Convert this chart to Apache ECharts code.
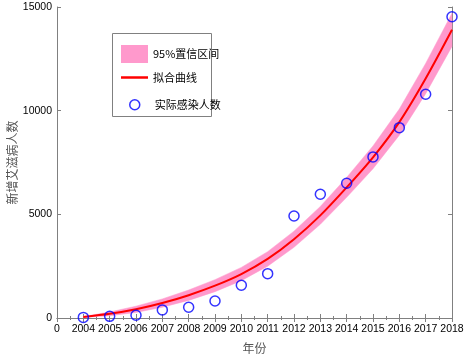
<!DOCTYPE html>
<html>
<head>
<meta charset="utf-8">
<script src="https://cdn.jsdelivr.net/npm/echarts@6/dist/echarts.min.js"></script>
<style>
  html, body { margin: 0; padding: 0; background: #fff; }
  #chart { width: 467px; height: 360px; }
</style>
</head>
<body>
<div id="chart"></div>
<script>
// years and values
const years = [2004, 2005, 2006, 2007, 2008, 2009, 2010, 2011, 2012, 2013, 2014, 2015, 2016, 2017, 2018];
const actual = [30, 80, 130, 390, 520, 820, 1580, 2140, 4920, 5970, 6500, 7770, 9180, 10790, 14530];
const fitted = [50, 200, 420, 720, 1100, 1560, 2120, 2850, 3800, 4950, 6300, 7750, 9450, 11550, 13900];
const upper = [70, 290, 570, 920, 1350, 1850, 2440, 3200, 4190, 5380, 6780, 8300, 10080, 12280, 14700];
const lower = [30, 110, 270, 520, 850, 1270, 1800, 2500, 3410, 4520, 5820, 7200, 8820, 10820, 13100];
const yTicks = [0, 5000, 10000, 15000];

const axisColor = "#808080";
const font = "Liberation Sans, Arial, sans-serif";
const cjk = "Noto Sans CJK SC";

const pairs = (arr) => years.map((y, i) => [y, arr[i]]);

// the confidence band as one polygon: upper edge forward, lower edge back
function renderBand(params, api) {
  if (params.dataIndex !== 0) return;
  const pts = [];
  years.forEach((y, i) => pts.push(api.coord([y, upper[i]])));
  for (let i = years.length - 1; i >= 0; i--) pts.push(api.coord([years[i], lower[i]]));
  return {
    type: "polygon",
    shape: { points: pts },
    style: { fill: "#ff99cc", stroke: "#ff99cc", lineWidth: 0.5 },
  };
}

const chart = echarts.init(document.getElementById("chart"));
chart.setOption({
  animation: false,
  grid: { left: 57, right: 15, top: 7, bottom: 42, containLabel: false, outerBoundsMode: "none" },
  xAxis: [
    {
      type: "value",
      min: 2003,
      max: 2018,
      interval: 1,
      name: "年份",
      nameLocation: "middle",
      nameGap: 24,
      nameTextStyle: { fontFamily: cjk, fontSize: 12, color: "#555" },
      axisLine: { lineStyle: { color: axisColor } },
      axisTick: { inside: true, length: 4, lineStyle: { color: axisColor } },
      minorTick: { show: true, splitNumber: 2, length: 2, lineStyle: { color: axisColor } },
      splitLine: { show: false },
      axisLabel: {
        color: "#000",
        fontFamily: font,
        fontSize: 10.5,
        margin: 6,
        formatter: (v) => (v === 2003 ? "0" : String(v)),
      },
    },
    {
      type: "value",
      position: "top",
      min: 2003,
      max: 2018,
      interval: 1,
      axisLine: { lineStyle: { color: axisColor } },
      axisTick: { inside: true, length: 4, lineStyle: { color: axisColor } },
      minorTick: { show: true, splitNumber: 2, length: 2, lineStyle: { color: axisColor } },
      splitLine: { show: false },
      axisLabel: { show: false },
    },
  ],
  yAxis: [
    {
      type: "value",
      min: yTicks[0],
      max: yTicks[yTicks.length - 1],
      interval: 5000,
      name: "新增艾滋病人数",
      nameLocation: "middle",
      nameGap: 39,
      nameMoveOverlap: false,
      nameTextStyle: { fontFamily: cjk, fontSize: 12, color: "#555" },
      axisLine: { show: true, lineStyle: { color: axisColor } },
      axisTick: { show: true, inside: true, length: 4, lineStyle: { color: axisColor } },
      splitLine: { show: false },
      axisLabel: {
        color: "#000", fontFamily: font, fontSize: 10.5, margin: 5,
        formatter: (v) => String(v),
      },
    },
    {
      type: "value",
      position: "right",
      min: yTicks[0],
      max: yTicks[yTicks.length - 1],
      interval: 5000,
      axisLine: { show: true, lineStyle: { color: axisColor } },
      axisTick: { show: true, inside: true, length: 4, lineStyle: { color: axisColor } },
      splitLine: { show: false },
      axisLabel: { show: false },
    },
  ],
  legend: [
    {
      data: ["95%置信区间"],
      left: 116, top: 40,
      icon: "rect",
      itemWidth: 27, itemHeight: 18,
      itemStyle: { color: "#ff99cc", borderWidth: 0 },
      textStyle: { fontFamily: cjk, fontSize: 11, color: "#000" },
    },
    {
      data: ["拟合曲线"],
      left: 116, top: 67,
      icon: "rect",
      itemWidth: 27, itemHeight: 2.5,
      textStyle: { fontFamily: cjk, fontSize: 11, color: "#000" },
    },
    {
      data: ["实际感染人数"],
      left: 124, top: 94,
      icon: "circle",
      itemWidth: 10, itemHeight: 10,
      itemStyle: { color: "#fff", borderColor: "#0000ff", borderWidth: 1.5 },
      textStyle: { fontFamily: cjk, fontSize: 11, color: "#000", padding: [0, 0, 0, 10] },
    },
  ],
  graphic: [
    {
      type: "rect",
      shape: { x: 112.5, y: 33.5, width: 99, height: 83 },
      style: { fill: "#fff", stroke: "#808080", lineWidth: 1 },
      z: -1,
    },
  ],
  series: [
    {
      name: "95%置信区间",
      type: "custom",
      renderItem: renderBand,
      data: pairs(upper),
      itemStyle: { color: "#ff99cc" },
      silent: true,
      z: 1,
    },
    {
      name: "拟合曲线",
      type: "line",
      data: pairs(fitted),
      showSymbol: false,
      smooth: 0.3,
      itemStyle: { color: "#ff0000" },
      lineStyle: { color: "#ff0000", width: 2 },
      z: 3,
    },
    {
      name: "实际感染人数",
      type: "scatter",
      data: pairs(actual),
      symbol: "circle",
      symbolSize: 10,
      itemStyle: { color: "rgba(0,0,0,0)", borderColor: "#0000ff", borderWidth: 1.5 },
      z: 5,
    },
  ],
});
</script>
</body>
</html>
